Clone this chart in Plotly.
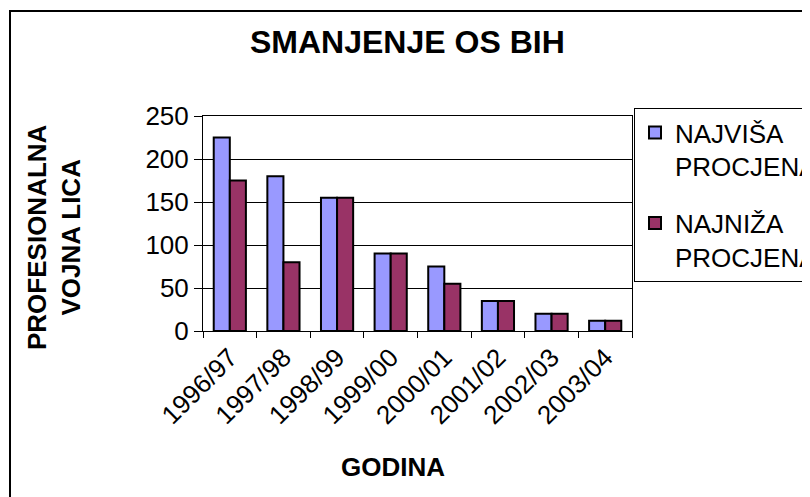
import plotly.graph_objects as go

categories = ["1996/97", "1997/98", "1998/99", "1999/00", "2000/01", "2001/02", "2002/03", "2003/04"]
najvisa = [225, 180, 155, 90, 75, 35, 20, 12]
najniza = [175, 80, 155, 90, 55, 35, 20, 12]
series_names = ["NAJVIŠA<br>PROCJENA", "NAJNIŽA<br>PROCJENA"]
y_ticks = [0, 50, 100, 150, 200, 250]

FONT = "Arial, Liberation Sans, sans-serif"

# the page body adds an 8px offset; positions below are screen pixels
OFF = 8
W, H = 810, 497
L, R, T, B = 203 - OFF, 632 - OFF, 116 - OFF, 331 - OFF
pw, ph = R - L, B - T

def px(x):
    return (x - OFF - L) / pw

def py(y):
    return (B - (y - OFF)) / ph

fig = go.Figure()
fig.add_trace(go.Bar(x=categories, y=najvisa, name=series_names[0], legendgroup="a",
                     marker=dict(color="#9999FF", line=dict(color="black", width=2))))
fig.add_trace(go.Bar(x=categories, y=najniza, name=series_names[1], legendgroup="b",
                     marker=dict(color="#993366", line=dict(color="black", width=2))))

fig.update_layout(
    width=W, height=H,
    margin=dict(l=L, r=W - R, t=T, b=H - B, pad=0, autoexpand=False),
    paper_bgcolor="white", plot_bgcolor="white",
    barmode="group", bargap=0.4, bargroupgap=0,
    font=dict(family=FONT, size=26, color="black"),
    showlegend=True,
    legend=dict(x=px(634), y=py(108), xanchor="left", yanchor="top",
                bordercolor="black", borderwidth=1, bgcolor="white",
                font=dict(size=26), tracegroupgap=20, valign="top", itemwidth=30),
    xaxis=dict(type="category", tickson="boundaries", ticks="outside", ticklen=6,
               tickcolor="black", showline=True, linecolor="black", linewidth=1,
               mirror=True, tickangle=-45, tickfont=dict(size=26), showgrid=False,
               automargin=False),
    yaxis=dict(range=[0, 250], tickvals=y_ticks, ticks="outside", ticklen=8,
               tickcolor="black", showline=True, linecolor="black", linewidth=1,
               mirror=True, showgrid=True, gridcolor="black", gridwidth=1,
               tickfont=dict(size=26), zeroline=False, automargin=False),
)

fig.add_annotation(text="<b>SMANJENJE OS BIH</b>", x=px(407), y=py(42), xref="paper", yref="paper",
                   showarrow=False, font=dict(size=32), xanchor="center", yanchor="middle")
fig.add_annotation(text="<b>GODINA</b>", x=px(393), y=py(467), xref="paper", yref="paper",
                   showarrow=False, font=dict(size=26), xanchor="center", yanchor="middle")
fig.add_annotation(text="<b>PROFESIONALNA<br>VOJNA LICA</b>", x=px(54), y=py(237), xref="paper", yref="paper",
                   showarrow=False, font=dict(size=26), textangle=-90, xanchor="center", yanchor="middle")

# outer chart border
fig.add_shape(type="rect", xref="paper", yref="paper", x0=px(10), y0=py(11), x1=px(840), y1=py(540),
              line=dict(color="black", width=2), fillcolor="rgba(0,0,0,0)", layer="below")

fig.write_html("out.html")
